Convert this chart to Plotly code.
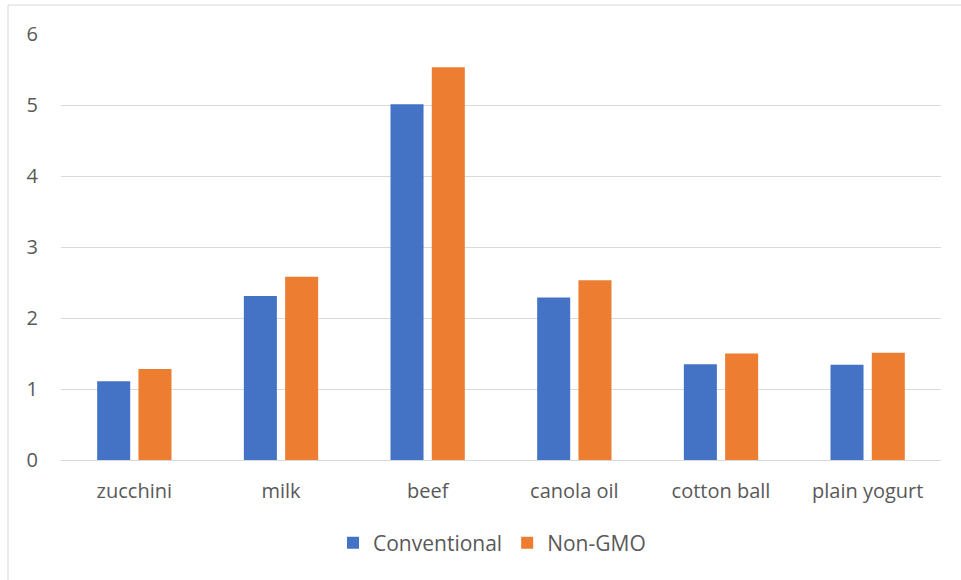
import plotly.graph_objects as go

categories = ["zucchini", "milk", "beef", "canola oil", "cotton ball", "plain yogurt"]
conventional = [1.11, 2.31, 5.01, 2.29, 1.35, 1.34]
non_gmo = [1.28, 2.58, 5.53, 2.53, 1.50, 1.51]
y_ticks = [0, 1, 2, 3, 4, 5, 6]

BLUE = "#4472C4"
ORANGE = "#ED7D31"
GRID = "#D9D9D9"
TEXT = "#595959"
FONT = "Open Sans"

fig = go.Figure()
fig.add_trace(go.Bar(name="Conventional", x=categories, y=conventional,
                     marker=dict(color=BLUE, line=dict(width=0))))
fig.add_trace(go.Bar(name="Non-GMO", x=categories, y=non_gmo,
                     marker=dict(color=ORANGE, line=dict(width=0))))

W, H = 961, 580
L, R, T, B = 61, 20, 34, 120
pw, ph = W - L - R, H - T - B


def px_x(p):
    return (p - L) / pw


def px_y(p):
    return (H - B - p) / ph


fig.update_layout(
    width=W, height=H,
    margin=dict(l=L, r=R, t=T, b=B),
    paper_bgcolor="white", plot_bgcolor="white",
    barmode="group", bargap=0.437, bargroupgap=0.2,
    font=dict(family=FONT, size=20, color=TEXT),
    showlegend=True,
    legend=dict(orientation="h", x=px_x(492), xanchor="center",
                y=px_y(543), yanchor="middle",
                font=dict(family=FONT, size=21, color=TEXT),
                itemwidth=30, traceorder="normal"),
    xaxis=dict(showgrid=False, showline=False, zeroline=False,
               ticks="", ticklabelstandoff=17,
               tickfont=dict(family=FONT, size=20, color=TEXT)),
    yaxis=dict(range=[0, 6], tickvals=y_ticks, showgrid=True,
               gridcolor=GRID, gridwidth=1.3, zeroline=True,
               zerolinecolor=GRID, zerolinewidth=1.3, showline=False,
               ticks="", ticklabelstandoff=22,
               tickfont=dict(family=FONT, size=20, color=TEXT)),
    shapes=[dict(type="rect", xref="paper", yref="paper",
                 x0=px_x(8), x1=px_x(963), y0=px_y(583), y1=px_y(5),
                 line=dict(color=GRID, width=1), fillcolor="rgba(0,0,0,0)",
                 layer="below")],
)

fig.write_html("out.html")
